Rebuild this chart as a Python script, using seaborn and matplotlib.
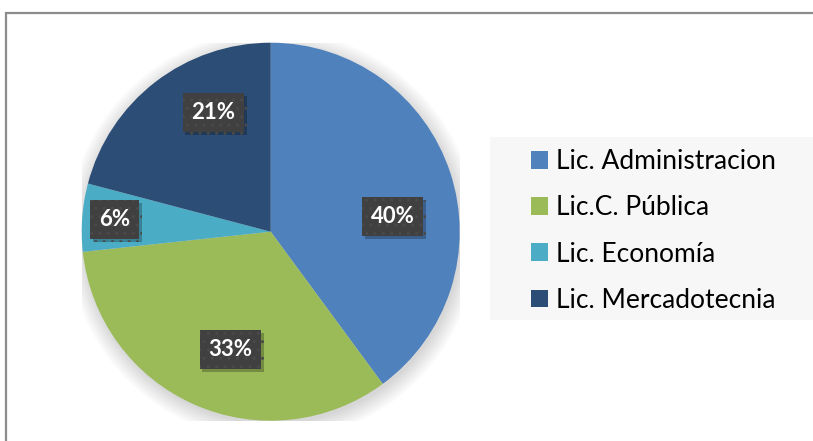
import matplotlib
matplotlib.use("Agg")
import matplotlib.pyplot as plt
import matplotlib.patheffects as pe
from matplotlib.patches import Rectangle, Circle
import numpy as np
import seaborn as sns

# Datos del grafico (porcentajes por licenciatura)
carreras = ["Lic. Administracion", "Lic.C. Pública", "Lic. Economía", "Lic. Mercadotecnia"]
porcentajes = [39.9, 33.4, 5.8, 20.9]
colores = ["#4F81BD", "#9BBB59", "#4BACC6", "#2C4D75"]

# Distancia de cada etiqueta al centro (fraccion del radio) y ajuste de angulo
dist_etiquetas = [0.65, 0.66, 0.83, 0.70]
ajuste_angulo = [-11, 5, 0, -12]


def configurar_estilo():
    sns.set_theme(style="white")
    plt.rcParams["font.family"] = ["Lato", "DejaVu Sans"]


def grafico_pastel():
    fig = plt.figure(figsize=(8.13, 4.41), dpi=100)
    fig.patch.set_facecolor("white")

    # Borde gris del area del grafico
    fig.patches.append(Rectangle((5.5 / 813, -0.1), 1.2, 1.1 - 12.5 / 441,
                                 transform=fig.transFigure, fill=False,
                                 edgecolor="#8c8c8c", linewidth=1.6))

    # Fondo gris claro de la leyenda
    fig.patches.append(Rectangle((490 / 813, 1 - 320 / 441), 323 / 813, 183 / 441,
                                 transform=fig.transFigure, facecolor="#f7f7f7",
                                 edgecolor="none"))

    ax = fig.add_axes([81.7 / 813, 20.3 / 441, 378 / 813, 378 / 441])
    ax.set_aspect("equal")

    # Sombra suave alrededor del pastel
    for i in range(8):
        ax.add_patch(Circle((0.01, -0.02), 1.0 + 0.012 * i, color="black",
                            alpha=0.02, linewidth=0, zorder=0))

    wedges, _ = ax.pie(porcentajes, colors=colores, startangle=90,
                       counterclock=False, radius=1.0,
                       wedgeprops=dict(linewidth=0))

    for w, pct, d, da in zip(wedges, porcentajes, dist_etiquetas, ajuste_angulo):
        ang = np.deg2rad((w.theta1 + w.theta2) / 2 + da)
        x, y = d * np.cos(ang), d * np.sin(ang)
        t = ax.text(x, y, f"{pct:.0f}%", ha="center", va="center",
                    color="white", fontsize=16, fontweight="bold",
                    bbox=dict(boxstyle="square,pad=0.4", facecolor="#404040",
                              edgecolor="#4a4a4a", linewidth=0, hatch=".."),
                    zorder=5)
        t.get_bbox_patch().set_path_effects([
            pe.withSimplePatchShadow(offset=(2, -2), shadow_rgbFace="black", alpha=0.25)
        ])

    ax.set_xlim(-1, 1)
    ax.set_ylim(-1, 1)
    ax.axis("off")

    leg = fig.legend(wedges, carreras, loc="center left",
                     bbox_to_anchor=(531 / 813, 210 / 441),
                     frameon=False, fontsize=19,
                     handlelength=0.66, handleheight=0.66, handletextpad=0.3,
                     labelspacing=0.8, borderpad=0, borderaxespad=0)
    for txt in leg.get_texts():
        txt.set_color("black")

    plt.savefig("out.png", dpi=100)
    plt.close()


if __name__ == "__main__":
    configurar_estilo()
    grafico_pastel()
